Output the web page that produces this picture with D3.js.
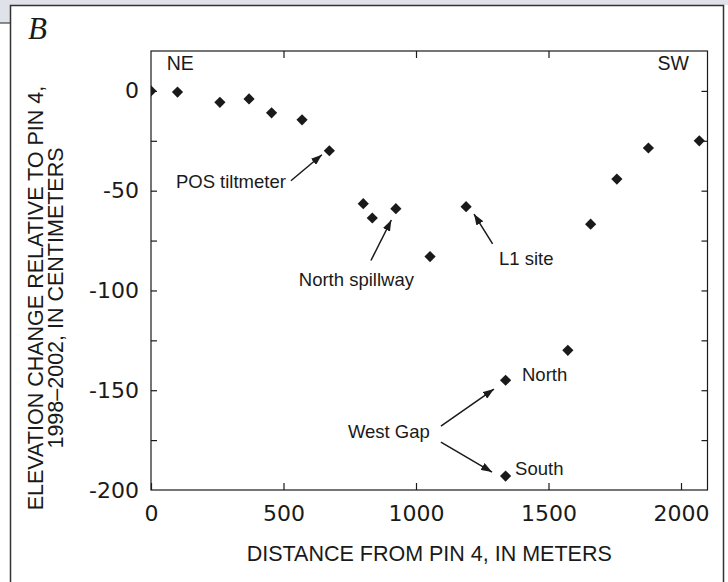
<!DOCTYPE html>
<html>
<head>
<meta charset="utf-8">
<script src="https://cdn.jsdelivr.net/npm/d3@7"></script>
<style>
  body { margin: 0; background: #fff; }
  text { fill: #1a1a1a; }
</style>
</head>
<body>
<div id="root"></div>
<script>
// distance from pin 4 (m) and elevation change (cm)
const distance = [0, 100, 260, 370, 455, 570, 673, 801, 835, 924, 1053, 1189, 1338, 1338, 1573, 1659, 1758, 1877, 2069];
const elevation = [0, -0.6, -5.7, -4, -11, -14.5, -30, -56.5, -63.7, -59, -83, -58, -145, -193, -130, -66.8, -44.2, -28.6, -25];

const xTicks = [0, 500, 1000, 1500, 2000];
const yTicks = [0, -50, -100, -150, -200];
const yMinor = [0, -25, -50, -75, -100, -125, -150, -175];

const labelText = ["POS tiltmeter", "North spillway", "L1 site", "West Gap", "North", "South"];
const labelX = [94, 775, 1313, 743, 1400, 1374];
const labelY = [-48.6, -97.7, -87, -174, -145.4, -192.5];

// arrows: tail -> head, in data units
const arrowX1 = [528, 830, 1289, 1094, 1094];
const arrowY1 = [-45, -85, -76.7, -168, -176];
const arrowX2 = [645, 907, 1219, 1294, 1287];
const arrowY2 = [-32, -64.7, -61.7, -149.4, -191];

const w = 728;
const h = 582;
const plotL = 151, plotR = 707.5, plotT = 51, plotB = 490;

const svg = d3.select("#root")
  .append("svg")
  .attr("width", w)
  .attr("height", h);

// window chrome + outer frame
svg.append("rect").attr("x", 0).attr("y", 0).attr("width", w).attr("height", 5).attr("fill", "#dfe2e8");
svg.append("rect").attr("x", 0).attr("y", 0).attr("width", 10).attr("height", 23).attr("fill", "#dfe2e8");
svg.append("line").attr("x1", 0).attr("x2", 10).attr("y1", 23).attr("y2", 23).attr("stroke", "#444").attr("stroke-width", 1.2);
svg.append("path")
  .attr("d", `M10.5,${h + 2}V5.5H723.5V${h + 2}`)
  .attr("fill", "none")
  .attr("stroke", "#333")
  .attr("stroke-width", 1.5);

svg.append("text")
  .attr("x", 28)
  .attr("y", 39)
  .style("font-family", "'Liberation Serif', serif")
  .style("font-style", "italic")
  .style("font-size", "31px")
  .text("B");

const xScale = d3.scaleLinear().domain([0, 2100]).range([plotL, plotR]);
const yScale = d3.scaleLinear().domain([-200, 20]).range([plotB, plotT]);

const defs = svg.append("defs");
defs.append("clipPath").attr("id", "clip")
  .append("rect")
  .attr("x", plotL).attr("y", plotT)
  .attr("width", plotR - plotL).attr("height", plotB - plotT);

defs.append("marker")
  .attr("id", "head")
  .attr("viewBox", "0 0 11 8")
  .attr("refX", 11).attr("refY", 4)
  .attr("markerWidth", 11).attr("markerHeight", 8)
  .attr("markerUnits", "userSpaceOnUse")
  .attr("orient", "auto")
  .append("path")
  .attr("d", "M0,0L11,4L0,8Z")
  .attr("fill", "#1a1a1a");

const tickFont = "'DejaVu Sans', sans-serif";
const plain = d => String(d);

// axes, ticks inward
svg.append("g")
  .attr("transform", `translate(0, ${plotB})`)
  .call(d3.axisBottom(xScale).tickValues(xTicks).tickFormat(plain).tickSizeInner(-7).tickSizeOuter(0).tickPadding(15))
  .call(g => g.select(".domain").remove())
  .call(g => g.selectAll("text").style("font-family", tickFont).style("font-size", "22px").attr("fill", "#222"));

svg.append("g")
  .attr("transform", `translate(0, ${plotT})`)
  .call(d3.axisTop(xScale).tickValues([500, 1000, 1500]).tickSizeInner(-7).tickSizeOuter(0).tickFormat(""))
  .call(g => g.select(".domain").remove());

svg.append("g")
  .attr("transform", `translate(${plotL}, 0)`)
  .call(d3.axisLeft(yScale).tickValues(yMinor).tickSizeInner(-6).tickSizeOuter(0).tickFormat(""))
  .call(g => g.select(".domain").remove());

svg.append("g")
  .attr("transform", `translate(${plotL}, 0)`)
  .call(d3.axisLeft(yScale).tickValues(yTicks).tickFormat(plain).tickSize(0).tickPadding(12))
  .call(g => g.select(".domain").remove())
  .call(g => g.selectAll("text").style("font-family", tickFont).style("font-size", "22px").attr("fill", "#222"));

svg.append("g")
  .attr("transform", `translate(${plotR}, 0)`)
  .call(d3.axisRight(yScale).tickValues(yMinor).tickSizeInner(-6).tickSizeOuter(0).tickFormat(""))
  .call(g => g.select(".domain").remove());

svg.append("rect")
  .attr("x", plotL).attr("y", plotT)
  .attr("width", plotR - plotL).attr("height", plotB - plotT)
  .attr("fill", "none")
  .attr("stroke", "#1a1a1a")
  .attr("stroke-width", 1.2);

svg.selectAll(".tick line").attr("stroke", "#1a1a1a").attr("stroke-width", 1.2);

// points
svg.append("g")
  .attr("clip-path", "url(#clip)")
  .selectAll("path")
  .data(distance)
  .enter()
  .append("path")
  .attr("d", d3.symbol(d3.symbolDiamond2, 80))
  .attr("transform", (d, i) => `translate(${xScale(d)}, ${yScale(elevation[i])})`)
  .attr("fill", "#1a1a1a");

// corner labels
const sans = "'Liberation Sans', Arial, sans-serif";
svg.append("text").attr("x", xScale(59)).attr("y", yScale(10.5))
  .style("font-family", sans).style("font-size", "19.5px").text("NE");
svg.append("text").attr("x", xScale(2030)).attr("y", yScale(10.5)).attr("text-anchor", "end")
  .style("font-family", sans).style("font-size", "19.5px").text("SW");

// annotations
svg.selectAll(".note")
  .data(labelText)
  .enter()
  .append("text")
  .attr("class", "note")
  .attr("x", (d, i) => xScale(labelX[i]))
  .attr("y", (d, i) => yScale(labelY[i]))
  .attr("text-anchor", (d, i) => i === 1 ? "middle" : "start")
  .style("font-family", sans)
  .style("font-size", "18.5px")
  .text(d => d);

svg.selectAll(".arrow")
  .data(arrowX1)
  .enter()
  .append("line")
  .attr("class", "arrow")
  .attr("x1", d => xScale(d))
  .attr("y1", (d, i) => yScale(arrowY1[i]))
  .attr("x2", (d, i) => xScale(arrowX2[i]))
  .attr("y2", (d, i) => yScale(arrowY2[i]))
  .attr("stroke", "#1a1a1a")
  .attr("stroke-width", 1.5)
  .attr("marker-end", "url(#head)");

// axis titles
svg.append("text")
  .attr("x", (plotL + plotR) / 2)
  .attr("y", 561)
  .attr("text-anchor", "middle")
  .style("font-family", sans)
  .style("font-size", "21.5px")
  .text("DISTANCE FROM PIN 4, IN METERS");

const yTitle = svg.append("text")
  .attr("transform", "translate(43, 298) rotate(-90)")
  .attr("text-anchor", "middle")
  .style("font-family", sans)
  .style("font-size", "21.5px");
yTitle.append("tspan").attr("x", 0).attr("y", 0).text("ELEVATION CHANGE RELATIVE TO PIN 4,");
yTitle.append("tspan").attr("x", 0).attr("y", 20).text("1998\u20132002, IN CENTIMETERS");
</script>
</body>
</html>
